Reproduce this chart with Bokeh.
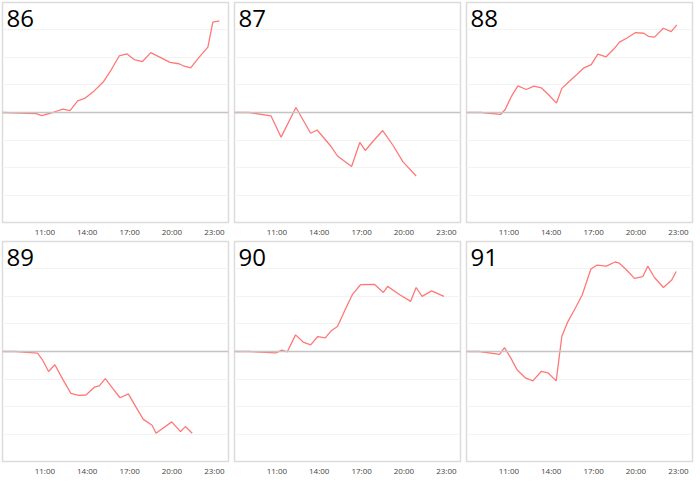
from bokeh.plotting import figure
from bokeh.layouts import gridplot
from bokeh.models import FixedTicker, Span, Range1d, Label
from bokeh.embed import file_html
from bokeh.resources import INLINE

titles = ["86", "87", "88", "89", "90", "91"]

x86 = [8.0, 10.38, 10.78, 11.55, 12.27, 12.78, 13.32, 13.86, 14.49, 15.13, 15.72, 16.26, 16.8, 17.32, 17.91, 18.5, 19.2, 19.86, 20.49, 20.87, 21.32, 21.9, 22.54, 22.89, 23.36]
y86 = [0.0, -0.04, -0.11, 0.0, 0.12, 0.07, 0.42, 0.52, 0.78, 1.1, 1.56, 2.04, 2.12, 1.91, 1.84, 2.16, 1.98, 1.81, 1.76, 1.67, 1.61, 1.98, 2.36, 3.26, 3.31]

x87 = [8.0, 9.03, 10.58, 11.3, 12.35, 13.39, 13.85, 14.78, 15.29, 16.29, 16.87, 17.26, 17.84, 18.49, 19.24, 19.93, 20.86]
y87 = [0.0, 0.0, -0.12, -0.89, 0.18, -0.75, -0.63, -1.19, -1.57, -1.95, -1.08, -1.37, -1.02, -0.65, -1.2, -1.78, -2.29]

x88 = [8.0, 9.04, 10.41, 10.74, 11.17, 11.64, 12.23, 12.77, 13.29, 13.83, 14.37, 14.75, 15.29, 15.81, 16.28, 16.83, 17.3, 17.89, 18.43, 18.83, 19.37, 19.94, 20.55, 20.88, 21.31, 21.94, 22.49, 22.89]
y88 = [0.0, 0.0, -0.07, 0.11, 0.57, 0.96, 0.83, 0.95, 0.89, 0.63, 0.34, 0.87, 1.13, 1.37, 1.6, 1.73, 2.11, 2.01, 2.29, 2.54, 2.69, 2.88, 2.86, 2.75, 2.72, 3.04, 2.92, 3.16]

x89 = [8.0, 8.94, 10.48, 10.83, 11.26, 11.71, 12.25, 12.84, 13.39, 13.91, 14.5, 14.85, 15.28, 15.8, 16.32, 16.91, 17.45, 17.97, 18.59, 18.87, 19.98, 20.6, 20.95, 21.43]
y89 = [0.0, 0.0, -0.06, -0.3, -0.72, -0.48, -0.99, -1.51, -1.58, -1.57, -1.29, -1.24, -0.98, -1.33, -1.67, -1.53, -2.01, -2.45, -2.66, -2.95, -2.54, -2.89, -2.71, -2.95]

x90 = [8.0, 9.03, 10.93, 11.35, 11.74, 12.32, 12.86, 13.39, 13.9, 14.43, 14.87, 15.29, 15.8, 16.34, 16.92, 17.92, 18.54, 18.84, 19.7, 20.47, 20.86, 21.28, 21.95, 22.83]
y90 = [0.0, 0.0, -0.05, 0.05, -0.01, 0.6, 0.34, 0.24, 0.54, 0.49, 0.76, 0.9, 1.47, 2.05, 2.41, 2.42, 2.13, 2.35, 2.05, 1.81, 2.31, 1.99, 2.19, 1.99]

x91 = [8.0, 8.92, 10.34, 10.69, 11.12, 11.59, 12.16, 12.7, 13.29, 13.76, 14.35, 14.75, 15.17, 15.69, 16.19, 16.81, 17.25, 17.89, 18.52, 18.78, 19.3, 19.89, 20.48, 20.83, 21.31, 21.94, 22.53, 22.84]
y91 = [0.0, 0.0, -0.1, 0.14, -0.22, -0.67, -0.95, -1.06, -0.72, -0.77, -1.06, 0.55, 1.07, 1.55, 2.04, 2.98, 3.12, 3.08, 3.23, 3.2, 2.96, 2.64, 2.7, 3.08, 2.67, 2.31, 2.58, 2.89]

series_x = [x86, x87, x88, x89, x90, x91]
series_y = [y86, y87, y88, y89, y90, y91]

tick_hours = [11, 14, 17, 20, 23]
tick_labels = ["11:00", "14:00", "17:00", "20:00", "23:00"]
grid_levels = [-3, -2, -1, 1, 2, 3]

FONT = "Open Sans"
figs = []
for t, xs, ys in zip(titles, series_x, series_y):
    p = figure(width=232, height=239, output_backend="svg", toolbar_location=None,
               x_range=Range1d(8, 24), y_range=Range1d(-3.97, 3.97),
               min_border_left=2, min_border_right=4, min_border_top=2, min_border_bottom=0)
    p.outline_line_color = "#dcdcdc"
    p.outline_line_width = 1.5
    p.background_fill_color = "white"
    p.border_fill_color = "white"
    p.yaxis.visible = False
    p.xgrid.visible = False
    p.ygrid.ticker = FixedTicker(ticks=grid_levels)
    p.ygrid.grid_line_color = "#f3f3f3"
    p.ygrid.grid_line_width = 1
    p.xaxis.ticker = FixedTicker(ticks=tick_hours)
    p.xaxis.major_label_overrides = {h: l for h, l in zip(tick_hours, tick_labels)}
    p.xaxis.axis_line_color = None
    p.xaxis.major_tick_line_color = None
    p.xaxis.minor_tick_line_color = None
    p.xaxis.major_tick_out = 0
    p.xaxis.major_tick_in = 0
    p.xaxis.minor_tick_out = 0
    p.xaxis.major_label_text_font = FONT
    p.xaxis.major_label_text_font_size = "8px"
    p.xaxis.major_label_text_color = "#444444"
    p.xaxis.major_label_standoff = 3
    p.add_layout(Span(location=0, dimension="width", line_color="#c4c4c4", line_width=1.5))
    p.line(xs, ys, line_color="#ff7878", line_width=1.3)
    p.add_layout(Label(x=8, y=3.97, x_offset=4, y_offset=-16, text=t, text_baseline="middle",
                       text_font=FONT, text_font_size="24px", text_color="black"))
    figs.append(p)

grid = gridplot(figs, ncols=3, toolbar_location=None)
open("out.html", "w").write(file_html(grid, INLINE))
